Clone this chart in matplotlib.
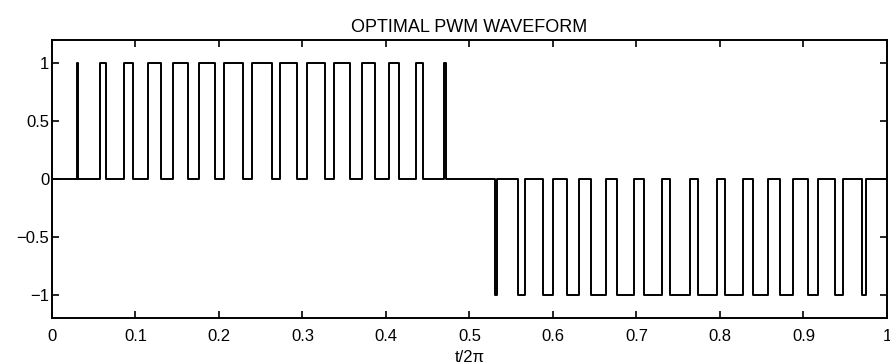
import numpy as np
import matplotlib.pyplot as plt

plt.rcParams['font.family'] = ['Liberation Sans', 'DejaVu Sans']

# pulse edges (t/2pi)
pos_on = [0.0295, 0.0580, 0.0865, 0.1150, 0.1450, 0.1755, 0.2065, 0.2390,
          0.2725, 0.3050, 0.3380, 0.3710, 0.4035, 0.4365, 0.4690]
pos_off = [0.0315, 0.0645, 0.0970, 0.1300, 0.1625, 0.1955, 0.2290, 0.2630,
           0.2940, 0.3265, 0.3565, 0.3865, 0.4150, 0.4445, 0.4720]
neg_on = [0.5300, 0.5585, 0.5875, 0.6165, 0.6460, 0.6770, 0.7085, 0.7400,
          0.7735, 0.8060, 0.8395, 0.8715, 0.9050, 0.9380, 0.9705]
neg_off = [0.5335, 0.5660, 0.5995, 0.6315, 0.6640, 0.6975, 0.7310, 0.7645,
           0.7960, 0.8280, 0.8580, 0.8880, 0.9175, 0.9470, 0.9750]

xticks = [0, 0.1, 0.2, 0.3, 0.4, 0.5, 0.6, 0.7, 0.8, 0.9, 1]
xticklabels = ['0', '0.1', '0.2', '0.3', '0.4', '0.5', '0.6', '0.7', '0.8', '0.9', '1']
yticks = [-1, -0.5, 0, 0.5, 1]
yticklabels = ['\u22121', '\u22120.5', '0', '0.5', '1']

# build the step waveform
t = [0.0]
v = [0.0]
for a, b in zip(pos_on, pos_off):
    t += [a, b]
    v += [1.0, 0.0]
for a, b in zip(neg_on, neg_off):
    t += [a, b]
    v += [-1.0, 0.0]
t.append(1.0)
v.append(0.0)

fig = plt.figure(figsize=(8.9, 3.64), dpi=100)
ax = fig.add_axes([0.0584, 0.1264, 0.9382, 0.7636])
ax.plot(t, v, drawstyle='steps-post', color='black', lw=1.4)

ax.set_xlim(0, 1)
ax.set_ylim(-1.2, 1.2)
ax.set_xticks(xticks)
ax.set_xticklabels(xticklabels)
ax.set_yticks(yticks)
ax.set_yticklabels(yticklabels)
ax.tick_params(direction='in', length=5, width=1.2, top=True, right=True,
               labelsize=12, colors='black')
ax.tick_params(axis='x', pad=8)
ax.tick_params(axis='y', pad=2)
for s in ax.spines.values():
    s.set_linewidth(1.4)

ax.set_title('OPTIMAL PWM WAVEFORM', fontsize=13, pad=6)
ax.set_xlabel('t/2\u03c0', fontsize=12, labelpad=4)

fig.savefig('out.png', dpi=100)
